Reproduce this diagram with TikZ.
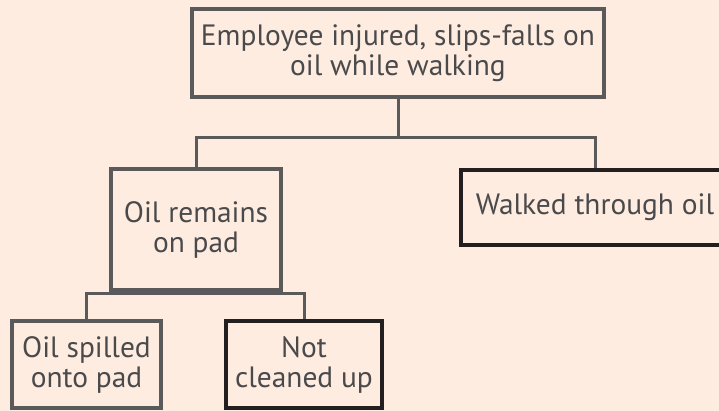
\documentclass[tikz,border=0pt]{standalone}
\usepackage{fontspec}
\setmainfont{PT Sans}
\usepackage{xcolor}
\definecolor{bgpeach}{HTML}{FDECDF}
\definecolor{linegrey}{HTML}{5A5A5A}
\definecolor{boxdark}{HTML}{231F20}
\definecolor{txtgrey}{HTML}{4A4A4C}
\usetikzlibrary{arrows.meta}

\begin{document}
\begin{tikzpicture}[x=1pt,y=1pt,
  evt/.style={draw=linegrey,line width=3.5pt,fill=bgpeach,text=txtgrey,align=center,inner sep=0pt,
    font=\fontsize{29.4}{30}\selectfont},
  leaf/.style={evt,draw=boxdark},
  link/.style={draw=linegrey,line width=3pt}]
\fill[bgpeach](0,0)rectangle(719,411);
\useasboundingbox(0,0)rectangle(719,411);
\node[evt,minimum width=412,minimum height=88](top)at(398,358){Employee injured, slips-falls on\\oil while walking};
\node[evt,minimum width=170,minimum height=121](remain)at(196,181.5){Oil remains\\on pad};
\node[leaf,minimum width=268,minimum height=75](walk)at(595,203.5){Walked through oil};
\node[evt,minimum width=149,minimum height=87](spill)at(86.5,46.5){Oil spilled\\onto pad};
\node[leaf,minimum width=156,minimum height=87](clean)at(304,46.5){Not\\cleaned up};
\draw[link](top.south)--++(0,-39)-|(remain.north);
\draw[link](top.south)--++(0,-39)-|(walk.north);
\draw[link](remain.south)--++(0,-2)coordinate(fork)-|(spill.north);
\draw[link](fork)-|(clean.north);
\end{tikzpicture}
\end{document}
